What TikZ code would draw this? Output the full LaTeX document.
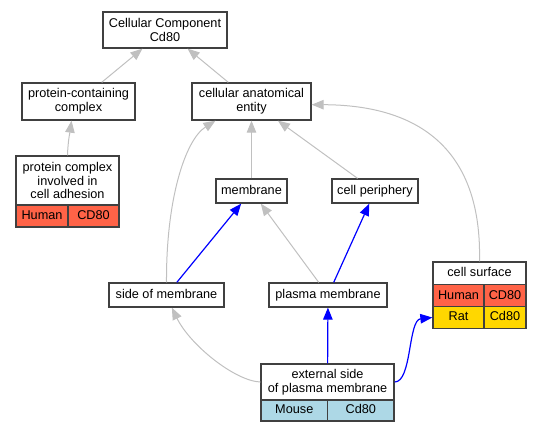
\documentclass[tikz,border=0pt]{standalone}
\usepackage{fontspec}
\setmainfont{Liberation Sans}
\usetikzlibrary{arrows.meta}
\definecolor{tomato}{HTML}{FF6347}
\definecolor{gold}{HTML}{FFD700}
\definecolor{lightblue}{HTML}{ADD8E6}
\definecolor{edgegray}{HTML}{C0C0C0}
\definecolor{boxline}{HTML}{404040}

\begin{document}
\begin{tikzpicture}[x=1pt,y=-1pt,
    box/.style={draw=boxline,line width=1.3pt,fill=white,inner sep=0pt,align=center,
      font=\fontsize{12.7}{13.8}\selectfont},
    cell/.style={box,text height=9.2pt,text depth=2.4pt},
    isa/.style={draw=edgegray,line width=1pt,-{Triangle[length=12pt,width=9.5pt]}},
    partof/.style={draw=blue,line width=1.2pt,-{Triangle[length=12pt,width=9.5pt]}}]
          \useasboundingbox (0,0) rectangle (540,432);
          % terms
          \node[box,minimum width=124,minimum height=36] (top) at (165,30) {Cellular Component\\Cd80};
          \node[box,minimum width=113,minimum height=37] (pcc) at (78.5,101.5) {protein-containing\\complex};
          \node[box,minimum width=119,minimum height=37] (cae) at (251.5,101.5) {cellular anatomical\\entity};
          \node[box,minimum width=103,minimum height=49] (pcia) at (67.5,180.5) {protein complex\\involved in\\cell adhesion};
          \node[cell,fill=tomato,minimum width=52,minimum height=22] (pciahs) at (42,216) {Human};
          \node[cell,fill=tomato,minimum width=51,minimum height=22] (pciagene) at (93.5,216) {CD80};
          \node[cell,minimum width=71,minimum height=24] (mem) at (251.5,191) {membrane};
          \node[cell,minimum width=86,minimum height=24] (cellp) at (375,191) {cell periphery};
          \node[cell,minimum width=115,minimum height=24] (som) at (166.5,295) {side of membrane};
          \node[cell,minimum width=118,minimum height=24] (pm) at (328,295) {plasma membrane};
          \node[cell,minimum width=93,minimum height=22.5] (cs) at (479.5,273.25) {cell surface};
          \node[cell,fill=tomato,minimum width=51,minimum height=22.2] (cshs) at (458.5,295.6) {Human};
          \node[cell,fill=tomato,minimum width=42,minimum height=22.2] (cshsgene) at (505,295.6) {CD80};
          \node[cell,fill=gold,minimum width=51,minimum height=21.6] (csrn) at (458.5,317.5) {Rat};
          \node[cell,fill=gold,minimum width=42,minimum height=21.6] (csrngene) at (505,317.5) {Cd80};
          \node[box,minimum width=133,minimum height=36] (ext) at (327.5,382) {external side\\of plasma membrane};
          \node[cell,fill=lightblue,minimum width=66.7,minimum height=21] (extmm) at (294.3,410.5) {Mouse};
          \node[cell,fill=lightblue,minimum width=66.3,minimum height=21] (extmmgene) at (360.8,410.5) {Cd80};
          % is_a
          \draw[isa] (pcc) -- (top);
          \draw[isa] (cae) -- (top);
          \draw[isa] (pcia.north) .. controls (68,140) and (70,132) .. (pcc.-110);
          \draw[isa] (mem) -- (cae);
          \draw[isa] (cellp) -- (cae);
          \draw[isa] (som.north) .. controls (166,200) and (185,140) .. (cae.-152);
          \draw[isa] (cs.north) .. controls (482,150) and (420,105) .. (cae.-3);
          \draw[isa] (pm) -- (mem);
          \draw[isa] (ext.west) .. controls (235,381) and (190,345) .. (som.-67);
          % part_of
          \draw[partof] (som) -- (mem);
          \draw[partof] (pm) -- (cellp);
          \draw[partof] (ext) -- (pm);
          \draw[partof] (ext.east) .. controls (412,382) and (408,320) .. (csrn.west);
        \end{tikzpicture}
\end{document}
